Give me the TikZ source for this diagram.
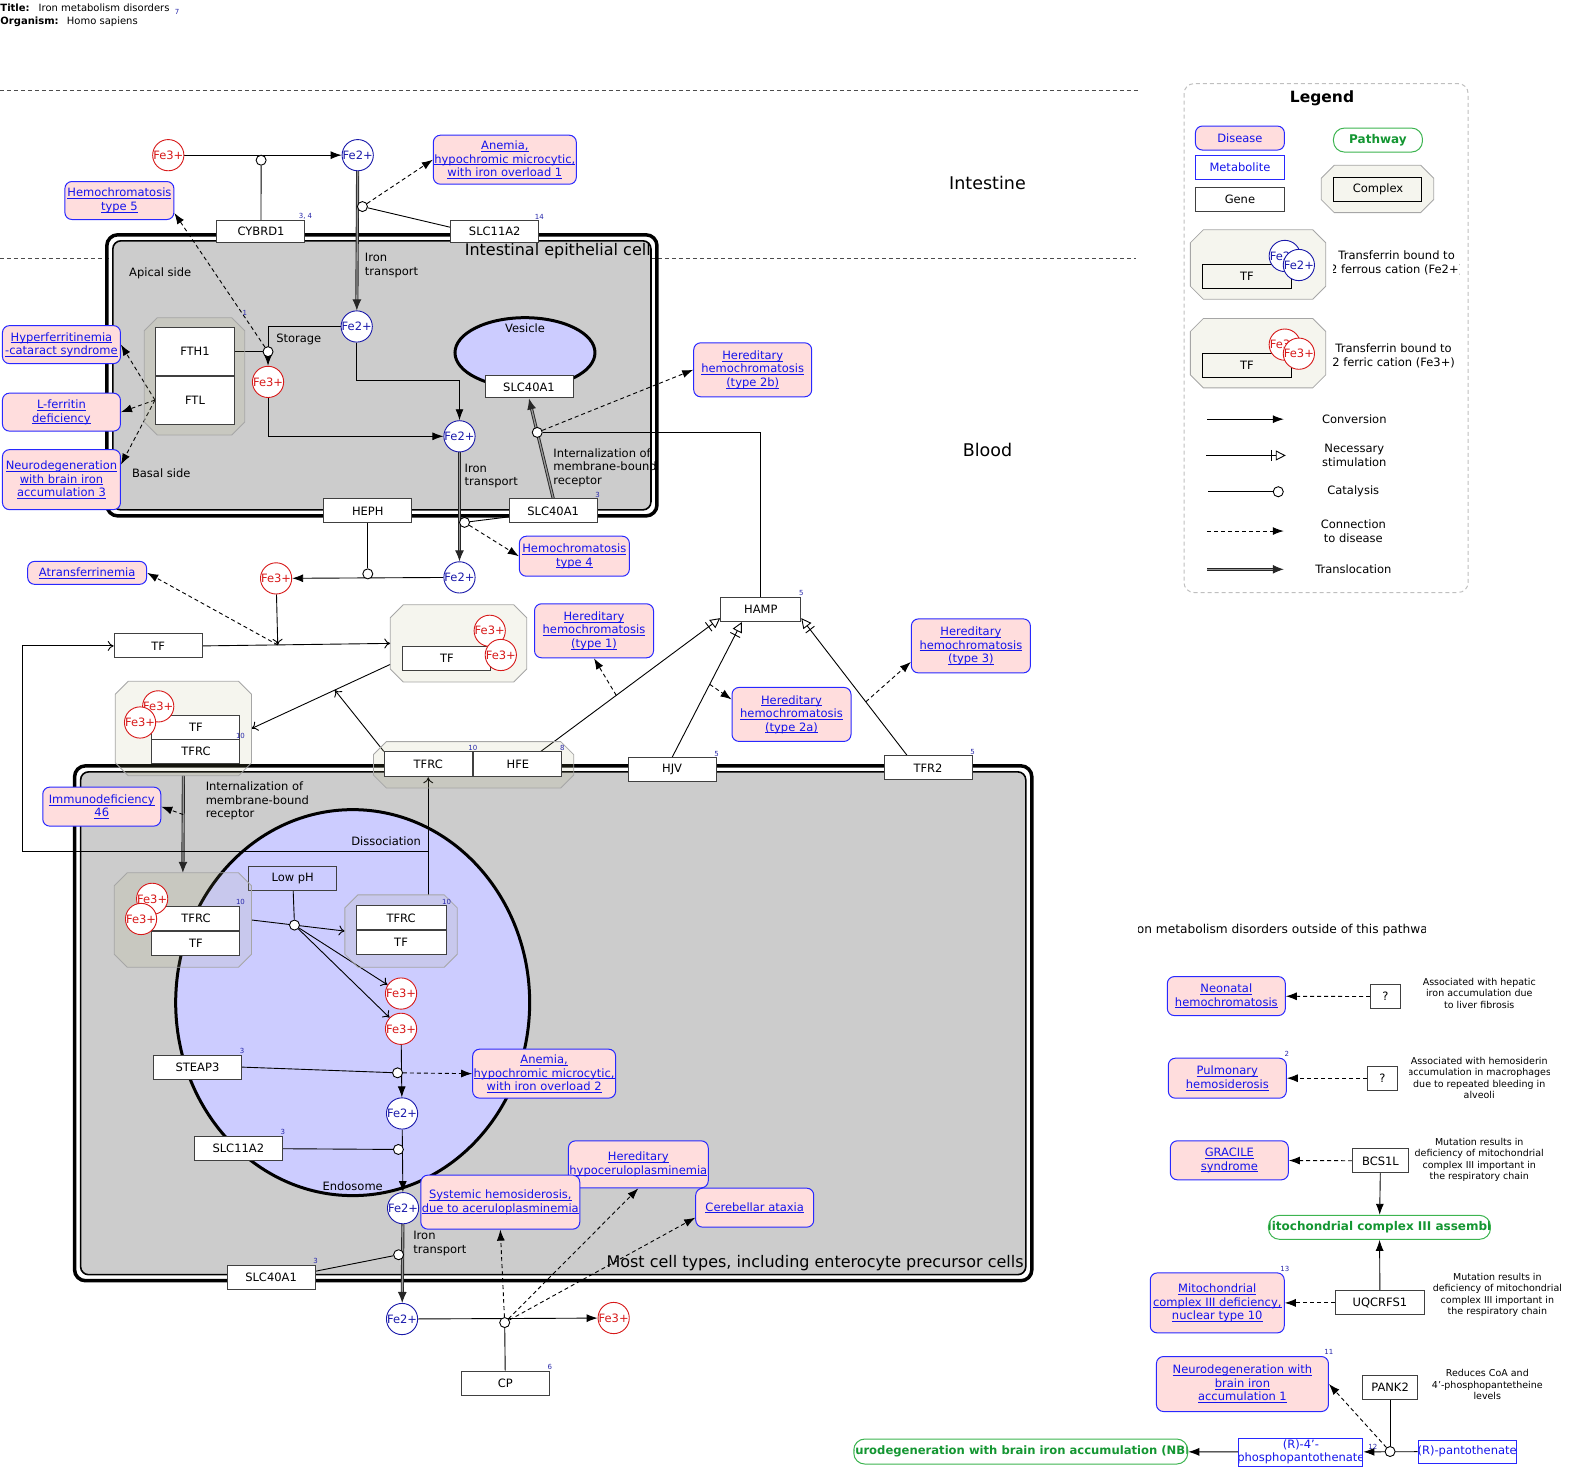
\documentclass[tikz,border=0pt]{standalone}
\usepackage{fontspec}
\setmainfont{DejaVu Sans}
\usetikzlibrary{arrows.meta,shapes.geometric,calc}

\definecolor{cellgray}{RGB}{204,204,204}
\definecolor{endoblue}{RGB}{204,204,255}
\definecolor{disfill}{RGB}{255,221,221}
\definecolor{disline}{RGB}{40,40,255}
\definecolor{linkblue}{RGB}{20,20,235}
\definecolor{fered}{RGB}{215,25,25}
\definecolor{feblue}{RGB}{25,25,170}
\definecolor{refblue}{RGB}{40,40,170}
\definecolor{pathgreen}{RGB}{20,150,50}
\definecolor{pathline}{RGB}{60,180,80}
\definecolor{cplxfill}{RGB}{172,172,113}

\newcommand\fnt{\fontsize{11.5}{13.5}\selectfont}
\newcommand\fsm{\fontsize{9.5}{11.5}\selectfont}
\newcommand\frefn{\fontsize{7}{8}\selectfont}
\newcommand\fhd{\fontsize{10}{12}\selectfont}
\newcommand\fsec{\fontsize{12.2}{14}\selectfont}
\newcommand\fcell{\fontsize{16}{19}\selectfont}
\newcommand\fzone{\fontsize{17.5}{21}\selectfont}
\newcommand\flgd{\fontsize{15.5}{18}\selectfont}
\newcommand\fpw{\fontsize{12}{14}\selectfont}
\newcommand\fpwb{\fontsize{11.6}{14}\selectfont}
\newcommand\uln[1]{\leavevmode\setbox0\hbox{#1}\rlap{\rule[-1.8pt]{\wd0}{0.6pt}}\box0}
% octagon drawn round a complex node
\newcommand\cplxoct[1]{\filldraw[fill=cplxfill, fill opacity=0.12, draw=black!35, line width=0.8pt]
  ([xshift=13pt]#1.north west) -- ([xshift=-13pt]#1.north east) -- ([yshift=-13pt]#1.north east)
  -- ([yshift=13pt]#1.south east) -- ([xshift=-13pt]#1.south east) -- ([xshift=13pt]#1.south west)
  -- ([yshift=13pt]#1.south west) -- ([yshift=-13pt]#1.north west) -- cycle;}

\pgfdeclarelayer{back}
\pgfdeclarelayer{mid}
\pgfsetlayers{back,mid,main}

\tikzset{
  gene/.style={draw=black!75, line width=1pt, fill=white, minimum width=88pt, minimum height=24pt, inner sep=0pt, font=\fnt},
  disease/.style={draw=disline, line width=1pt, fill=disfill, rounded corners=7pt, align=center, text=linkblue, font=\fnt, inner sep=1pt},
  metab/.style={draw=disline, line width=1pt, fill=white, text=linkblue, font=\fnt, inner sep=0pt},
  pathw/.style={draw=pathline, line width=1pt, fill=white, rounded corners=11pt, text=pathgreen, font=\fpw\bfseries, inner sep=0pt},
  cplx/.style={rectangle, inner sep=0pt},
  fethree/.style={circle, draw=fered, fill=white, text=fered, minimum size=30pt, inner sep=0pt, font=\fnt, line width=0.9pt},
  fetwo/.style={circle, draw=feblue, fill=white, text=feblue, minimum size=30pt, inner sep=0pt, font=\fnt, line width=0.9pt},
  anc/.style={circle, draw=black, fill=white, line width=0.9pt, inner sep=0pt, minimum size=10pt},
  refn/.style={text=refblue, font=\frefn, inner sep=1pt, anchor=south},
  lbl/.style={font=\fnt, inner sep=0pt, align=left},
  note/.style={font=\fsm, align=center, inner sep=0pt},
  zone/.style={black!70, line width=0.9pt, dash pattern=on 4pt off 3pt},
  lnk/.style={line width=0.9pt},
  conv/.style={line width=0.9pt, -{Latex[length=11pt,width=8pt]}},
  convo/.style={line width=0.9pt, -{To[length=6pt,width=10pt]}},
  trans/.style={line width=0.9pt, draw=black!85, double=black!40, double distance=1.3pt, -{Latex[length=11pt,width=9pt]}},
  todis/.style={line width=0.9pt, dash pattern=on 4pt off 3pt, -{Latex[length=11pt,width=8pt]}},
  stim/.style={line width=0.9pt, -{Bar[width=11pt,sep=4pt]Triangle[open,length=10pt,width=10pt]}},
  catl/.style={line width=0.9pt, -{Circle[open,length=11pt,width=11pt]}},
  pclip/.style={path picture={\node[draw=none, fill=none, text=pathgreen, font=\fpw\bfseries] at (path picture bounding box.center) {#1};}},
  pclipb/.style={path picture={\node[draw=none, fill=none, text=pathgreen, font=\fpwb\bfseries] at (path picture bounding box.center) {#1};}},
  mclip/.style={path picture={\node[draw=none, fill=none, text=linkblue, font=\fnt, align=center] at (path picture bounding box.center) {#1};}},
  nclip/.style={path picture={\node[draw=none, fill=none, font=\fsm, align=center] at (path picture bounding box.center) {#1};}},
  hclip/.style={path picture={\node[draw=none, fill=none, font=\fnt, align=center] at (path picture bounding box.center) {#1};}},
  sclip/.style={path picture={\node[draw=none, fill=none, font=\fsec] at (path picture bounding box.center) {#1};}}
}

\begin{document}
\begin{tikzpicture}[x=1.0077pt, y=-1.0077pt, line width=0.9pt]
\useasboundingbox (0,0) rectangle (1568,1470);

% header
\node[anchor=west, inner sep=0pt, font=\fhd\bfseries] (ttl) at (0,8) {Title:};
\node[anchor=west, inner sep=0pt, font=\fhd] (ttlname) at (38,8) {Iron metabolism disorders};
\node[refn, anchor=west] (r0) at (172,12) {7};
\node[anchor=west, inner sep=0pt, font=\fhd\bfseries] (org) at (0,22) {Organism:};
\node[anchor=west, inner sep=0pt, font=\fhd] (orgname) at (66,22) {Homo sapiens};

\begin{pgfonlayer}{back}
  % compartments
  \draw[zone] (0,90) -- (1130,90);
  \draw[zone] (0,256) -- (1127,256);
  % intestinal epithelial cell
  \draw[line width=3.5pt, rounded corners=11pt] (106,233) rectangle (652,512);
  \draw[line width=1.6pt, rounded corners=8pt, fill=cellgray] (112,239) rectangle (646,506);
  % other cell types
  \draw[line width=3.5pt, rounded corners=11pt] (74,760) rectangle (1024,1271);
  \draw[line width=1.6pt, rounded corners=8pt, fill=cellgray] (80,766) rectangle (1018,1265);
  \node[ellipse, draw, line width=3pt, fill=endoblue, minimum width=354pt, minimum height=386pt] (endo) at (350,995) {};
  \node[ellipse, draw, line width=3pt, fill=endoblue, minimum width=140pt, minimum height=70pt] (vesic) at (521,350) {};
\end{pgfonlayer}

\node[font=\fzone] (intest) at (980,182) {Intestine};
\node[font=\fzone] (blood) at (980,447) {Blood};
\node[font=\fcell, anchor=east, inner sep=0pt] (iec) at (646,249) {Intestinal epithelial cell};
\node[font=\fcell, anchor=east, inner sep=0pt] (mct) at (1016,1253) {Most cell types, including enterocyte precursor cells};
\node[lbl] (apical) at (159,271) {Apical side};
\node[lbl] (basal) at (160,470) {Basal side};
\node[lbl] (vesl) at (521,326) {Vesicle};
\node[lbl] (endl) at (350,1177) {Endosome};
\node[lbl, anchor=north west] (itr1) at (362,251) {Iron\\transport};
\node[lbl, anchor=west] (stor) at (274,337) {Storage};
\node[lbl, anchor=north west] (itr2) at (461,460) {Iron\\transport};
\node[lbl, anchor=north west] (intl1) at (549,445) {Internalization of\\membrane-bound\\receptor};
\node[lbl, anchor=north west] (intl2) at (204,776) {Internalization of\\membrane-bound\\receptor};
\node[lbl, anchor=east] (dissoc) at (418,835) {Dissociation};
\node[lbl, anchor=north west] (itr3) at (410,1222) {Iron\\transport};

% intestinal cell genes
\node[gene, minimum height=22pt] (cybrd1) at (259,230) {CYBRD1};
\node[refn] (r1) at (cybrd1.north east) {3, 4};
\node[gene, minimum height=22pt] (slc11i) at (491,230) {SLC11A2};
\node[refn] (r2) at (slc11i.north east) {14};
\node[cplx, minimum width=100pt, minimum height=117pt] (ferr) at (193,373.5) {};
\cplxoct{ferr}
\node[gene, minimum width=79pt, minimum height=48pt] (fth1) at (193.5,349) {FTH1};
\node[gene, minimum width=79pt, minimum height=48pt] (ftl) at (193.5,397) {FTL};
\node[gene, minimum height=22pt] (slc40v) at (525,384) {SLC40A1};
\node[gene] (heph) at (365,507) {HEPH};
\node[gene] (slc40b) at (549,507) {SLC40A1};
\node[refn] (r3) at (slc40b.north east) {3};

% blood
\node[gene, minimum width=80pt] (hamp) at (755,605) {HAMP};
\node[refn] (r4) at (hamp.north east) {5};
\node[gene] (tf) at (157,641) {TF};
\node[cplx, minimum width=136pt, minimum height=77pt] (tfc) at (455,638.5) {};
\cplxoct{tfc}
\node[gene] (tfcb) at (443.5,653) {TF};
\node[fethree] (tfcfa) at (486,626) {Fe3+};
\node[fethree] (tfcfb) at (497,650) {Fe3+};
\node[cplx, minimum width=136pt, minimum height=94pt] (tftfrc) at (182,723) {};
\cplxoct{tftfrc}
\node[gene] (tftf) at (194.5,722) {TF};
\node[gene] (tftfrcb) at (194.5,746) {TFRC};
\node[refn] (r5) at (tftf.south east) {10};
\node[fethree] (tftffa) at (157,701) {Fe3+};
\node[fethree] (tftffb) at (139,717) {Fe3+};

% receptors on the membrane
\node[cplx, minimum width=200pt, minimum height=46pt] (tfrchfe) at (470,759) {};
\cplxoct{tfrchfe}
\node[gene, minimum height=25pt] (tfrcm) at (425,758.5) {TFRC};
\node[gene, minimum height=25pt] (hfe) at (514,758.5) {HFE};
\node[refn] (r6) at (tfrcm.north east) {10};
\node[refn] (r7) at (hfe.north east) {8};
\node[gene] (hjv) at (667,764) {HJV};
\node[refn] (r8) at (hjv.north east) {5};
\node[gene] (tfr2) at (921,762) {TFR2};
\node[refn] (r9) at (tfr2.north east) {5};

% endosome
\node[gene, fill=none] (lowph) at (290.5,872) {Low pH};
\node[cplx, minimum width=137pt, minimum height=94pt] (cplxl) at (181.5,913) {};
\cplxoct{cplxl}
\node[gene] (cltfrc) at (194.5,911.5) {TFRC};
\node[gene] (cltf) at (194.5,936.5) {TF};
\node[refn] (r10) at (cltfrc.north east) {10};
\node[fethree] (clfa) at (151,892) {Fe3+};
\node[fethree] (clfb) at (140,912) {Fe3+};
\node[cplx, minimum width=112pt, minimum height=72pt] (cplxr) at (398,924) {};
\cplxoct{cplxr}
\node[gene, minimum width=90pt] (crtfrc) at (398,911) {TFRC};
\node[gene, minimum width=90pt] (crtf) at (398,935.5) {TF};
\node[refn] (r11) at (crtfrc.north east) {10};
\node[fethree] (fe3d) at (398,986) {Fe3+};
\node[fethree] (fe3e) at (398,1021) {Fe3+};
\node[gene] (steap3) at (196,1059) {STEAP3};
\node[refn] (r12) at (steap3.north east) {3};
\node[fetwo] (fe2e) at (399,1105) {Fe2+};
\node[gene] (slc11e) at (236.5,1140) {SLC11A2};
\node[refn] (r13) at (slc11e.north east) {3};
\node[fetwo] (fe2f) at (400,1199) {Fe2+};
\node[gene] (slc40c) at (269,1268) {SLC40A1};
\node[refn] (r14) at (slc40c.north east) {3};
\node[fetwo] (fe2g) at (399,1309) {Fe2+};
\node[fethree] (fe3f) at (609,1308) {Fe3+};
\node[gene] (cp) at (501.5,1372.5) {CP};
\node[refn] (r15) at (cp.north east) {6};

% iron in the intestine
\node[fethree] (fe3a) at (167,154) {Fe3+};
\node[fetwo] (fe2a) at (355,154) {Fe2+};
\node[fetwo] (fe2b) at (354,324) {Fe2+};
\node[fethree] (fe3b) at (266,379) {Fe3+};
\node[fetwo] (fe2c) at (456,433) {Fe2+};
\node[fetwo] (fe2d) at (456,573) {Fe2+};
\node[fethree] (fe3c) at (274,574) {Fe3+};

% diseases
\node[disease, minimum width=142pt, minimum height=49pt] (ane1) at (501,158.5) {\uln{Anemia,}\\\uln{hypochromic microcytic,}\\\uln{with iron overload 1}};
\node[disease, minimum width=109pt, minimum height=38pt] (hemo5) at (118.5,199) {\uln{Hemochromatosis}\\\uln{type 5}};
\node[refn] (r16) at (243,314) {1};
\node[disease, minimum width=118pt, minimum height=38pt] (hypf) at (61,342) {\uln{Hyperferritinemia}\\\uln{-cataract syndrome}};
\node[disease, minimum width=118pt, minimum height=38pt] (lfer) at (61,409) {\uln{L-ferritin}\\\uln{deficiency}};
\node[disease, minimum width=118pt, minimum height=60pt] (nbia3) at (61,476) {\uln{Neurodegeneration}\\\uln{with brain iron}\\\uln{accumulation 3}};
\node[disease, minimum width=118pt, minimum height=54pt] (hh2b) at (747,367) {\uln{Hereditary}\\\uln{hemochromatosis}\\\uln{(type 2b)}};
\node[disease, minimum width=110pt, minimum height=40pt] (hemo4) at (570,552) {\uln{Hemochromatosis}\\\uln{type 4}};
\node[disease, minimum width=119pt, minimum height=23pt] (atrans) at (86.5,568.5) {\uln{Atransferrinemia}};
\node[disease, minimum width=119pt, minimum height=54pt] (hh1) at (589.5,626) {\uln{Hereditary}\\\uln{hemochromatosis}\\\uln{(type 1)}};
\node[disease, minimum width=119pt, minimum height=54pt] (hh2a) at (785.5,709) {\uln{Hereditary}\\\uln{hemochromatosis}\\\uln{(type 2a)}};
\node[disease, minimum width=119pt, minimum height=54pt] (hh3) at (963.5,641) {\uln{Hereditary}\\\uln{hemochromatosis}\\\uln{(type 3)}};
\node[disease, minimum width=118pt, minimum height=39pt] (immu) at (101,800.5) {\uln{Immunodeficiency}\\\uln{46}};
\node[disease, minimum width=142pt, minimum height=49pt] (ane2) at (540,1065.5) {\uln{Anemia,}\\\uln{hypochromic microcytic,}\\\uln{with iron overload 2}};
\node[disease, minimum width=137pt, minimum height=47pt] (hcp) at (633.5,1155.5) {\uln{Hereditary}\\\uln{hypoceruloplasminemia}};
\node[disease, minimum width=153pt, minimum height=54pt] (sysh) at (496.5,1193) {\uln{Systemic hemosiderosis,}\\\uln{due to aceruloplasminemia}};
\node[disease, minimum width=118pt, minimum height=39pt] (cereb) at (749,1198.5) {\uln{Cerebellar ataxia}};

% catalysis anchors
\node[anc] (c1) at ($(fe3a)!0.49!(fe2a)+(0,5)$) {};
\node[anc] (c2) at ($(fe2a)!0.3!(fe2b)+(5,0)$) {};
\node[anc] (c3) at (fe3b.north |- fth1.east) {};
\node[anc] (c4) at ($(fe2c)!0.61!(fe2d)+(5,0)$) {};
\node[anc] (c5) at ($(slc40b.north)!0.66!(slc40v.south)$) {};
\node[anc] (c6) at ($(fe2d)!0.5!(fe3c)+(0,-4)$) {};
\node[anc] (c7) at ($(cplxl.east)!0.46!(cplxr.west)$) {};
\node[anc] (c8) at ($(fe3e)!0.52!(fe2e)+(-4,0)$) {};
\node[anc] (c9) at ($(fe2e)!0.38!(fe2f)+(-4,0)$) {};
\node[anc] (c10) at ($(fe2f)!0.42!(fe2g)+(-4,0)$) {};
\node[anc] (c11) at ($(fe2g)!0.485!(fe3f)+(0,4)$) {};

\begin{pgfonlayer}{mid}
  % intestine
  \draw[conv] (fe3a) -- (fe2a);
  \draw[lnk] (cybrd1) -- (c1);
  \draw[trans] (fe2a) -- (fe2b);
  \draw[lnk] ([yshift=-7pt]slc11i.north west) -- (c2);
  \draw[todis] (c2) -- (ane1.west);
  \draw[conv] (fe2b.west) -| (fe3b.north);
  \draw[lnk] (fth1.east) -- (c3);
  \draw[todis] (c3) -- ([yshift=7pt]hemo5.south east);
  \draw[todis] (ftl.west) -- (hypf.east);
  \draw[todis] (ftl.west) -- (lfer.east);
  \draw[todis] (ftl.west) -- ([yshift=15pt]nbia3.east);
  \draw[conv] (fe2b.south) |- ([yshift=40pt]fe2c.north) -- (fe2c.north);
  \draw[conv] (fe3b.south) |- (fe2c.west);
  \draw[trans] (fe2c) -- (fe2d);
  \draw[lnk] ([yshift=-6pt]slc40b.west) -- (c4);
  \draw[todis] (c4) -- (hemo4.west);
  \draw[trans] (slc40b.north) -- (slc40v.south);
  \draw[lnk] (hamp.north) |- (c5);
  \draw[todis] (c5) -- (hh2b.west);
  \draw[conv] (fe2d) -- (fe3c);
  \draw[lnk] (heph) -- (c6);

  % blood
  \coordinate (tfj) at ($(tf.east)!0.4!(tfc.west)$);
  \draw[convo] (tf.east) -- (tfc.west);
  \draw[convo] (fe3c) -- (tfj);
  \draw[todis] (tfj) -- (atrans.east);
  \coordinate (tfcout) at ([yshift=-21pt]tfc.west);
  \draw[convo] (tfcout) -- (tftfrc.east);
  \draw[convo] (tfrcm.north west) -- ($(tfcout)!0.4!(tftfrc.east)$);

  % hepcidin regulation
  \coordinate (s1a) at ([xshift=23pt]hfe.north);
  \coordinate (s1b) at ([yshift=4pt]hamp.south west);
  \draw[stim] (s1a) -- (s1b);
  \draw[todis] ($(s1a)!0.42!(s1b)$) -- (hh1.south);
  \coordinate (s2a) at (hjv.north);
  \coordinate (s2b) at ([xshift=-19pt]hamp.south);
  \draw[stim] (s2a) -- (s2b);
  \draw[todis] ($(s2a)!0.54!(s2b)$) -- ([yshift=15pt]hh2a.west);
  \coordinate (s3a) at ([xshift=-21pt]tfr2.north);
  \coordinate (s3b) at ([yshift=4pt]hamp.south east);
  \draw[stim] (s3a) -- (s3b);
  \draw[todis] ($(s3a)!0.39!(s3b)$) -- ([yshift=-16pt]hh3.west);

  % endosome cycle
  \draw[trans] (tftfrc.south) -- (cplxl.north);
  \draw[todis] ($(tftfrc.south)!0.4!(cplxl.north)$) -- (immu.east);
  \draw[convo] (cplxl.east) -- (cplxr.west);
  \draw[lnk] (lowph) -- (c7);
  \draw[convo] (c7) -- (fe3d);
  \draw[convo] (c7) -- (fe3e);
  \draw[convo] (tfrcm.south |- cplxr.north) -- (tfrcm.south);
  \draw[convo] (tfrcm.south |- 0,845) -- (22,845) |- (tf.west);
  \draw[conv] (fe3e) -- (fe2e);
  \draw[lnk] (steap3.east) -- (c8);
  \draw[todis] (c8) -- (ane2.west);
  \draw[conv] (fe2e) -- (fe2f);
  \draw[lnk] (slc11e.east) -- (c9);
  \draw[trans] (fe2f) -- (fe2g);
  \draw[lnk] ([yshift=-6pt]slc40c.north east) -- (c10);
  \draw[conv] (fe2g) -- (fe3f);
  \draw[lnk] (cp) -- (c11);
  \draw[todis] (c11) -- (sysh.south);
  \draw[todis] (c11) -- (hcp.south);
  \draw[todis] (c11) -- ([yshift=-10pt]cereb.west);
\end{pgfonlayer}

% disorders outside of this pathway
\node[minimum width=287pt, minimum height=16pt, sclip={Iron metabolism disorders outside of this pathway}] (outside) at (1272,923) {};
\node[disease, minimum width=118pt, minimum height=39pt] (neon) at (1217,988.5) {\uln{Neonatal}\\\uln{hemochromatosis}};
\node[gene, minimum width=30pt] (q1) at (1375,989) {?};
\node[note] (n1) at (1468,985.5) {Associated with hepatic\\iron accumulation due\\to liver fibrosis};
\node[disease, minimum width=118pt, minimum height=40pt] (pulm) at (1218,1070) {\uln{Pulmonary}\\\uln{hemosiderosis}};
\node[refn] (r17) at (pulm.north east) {2};
\node[gene, minimum width=30pt] (q2) at (1372,1070) {?};
\node[minimum width=140pt, minimum height=52pt, nclip={Associated with hemosiderin\\accumulation in macrophages\\due to repeated bleeding in\\alveoli}] (n2) at (1468,1070) {};
\node[disease, minimum width=118pt, minimum height=39pt] (grac) at (1220,1151.5) {\uln{GRACILE}\\\uln{syndrome}};
\node[gene, minimum width=56pt] (bcs1l) at (1370,1152) {BCS1L};
\node[note] (n3) at (1468,1151) {Mutation results in\\deficiency of mitochondrial\\complex III important in\\the respiratory chain};
\node[pathw, minimum width=222pt, minimum height=24pt, pclip={Mitochondrial complex III assembly}] (mc3a) at (1369,1218) {};
\node[disease, minimum width=134pt, minimum height=60pt] (mc3d) at (1208,1293) {\uln{Mitochondrial}\\\uln{complex III deficiency,}\\\uln{nuclear type 10}};
\node[refn] (r18) at (mc3d.north east) {13};
\node[gene, minimum width=89pt] (uqcrfs1) at (1369.5,1293) {UQCRFS1};
\node[note] (n4) at (1486,1285) {Mutation results in\\deficiency of mitochondrial\\complex III important in\\the respiratory chain};
\node[disease, minimum width=172pt, minimum height=55pt] (nbia1) at (1233,1373.5) {\uln{Neurodegeneration with}\\\uln{brain iron}\\\uln{accumulation 1}};
\node[refn] (r19) at (nbia1.north east) {11};
\node[gene, minimum width=55pt] (pank2) at (1379.5,1377) {PANK2};
\node[note] (n5) at (1476,1374) {Reduces CoA and\\4'-phosphopantetheine\\levels};
\node[pathw, minimum width=334pt, minimum height=25pt, pclipb={Neurodegeneration with brain iron accumulation (NBIA)}] (nbiap) at (1013,1440.5) {};
\node[metab, minimum width=124pt, minimum height=28pt, mclip={(R)-4'-\\phosphopantothenate}] (ppan) at (1291,1441) {};
\node[metab, minimum width=98pt, minimum height=23pt, mclip={(R)-pantothenate}] (pan) at (1456,1440.5) {};
\node[anc] (c12) at (pank2.south |- pan.west) {};
\node[refn, anchor=east] (r20) at (1368,1436) {12};

\begin{pgfonlayer}{mid}
  \draw[todis] (q1) -- (neon);
  \draw[todis] (q2) -- (pulm);
  \draw[todis] (bcs1l) -- (grac);
  \draw[conv] (bcs1l) -- (mc3a);
  \draw[conv] (uqcrfs1) -- (mc3a);
  \draw[todis] (uqcrfs1) -- (mc3d);
  \draw[conv] (pan) -- (ppan);
  \draw[lnk] (pank2) -- (c12);
  \draw[todis] (c12) -- (nbia1.east);
  \draw[conv] (ppan) -- (nbiap);
\end{pgfonlayer}

% legend
\draw[black!25, line width=1pt, dash pattern=on 4pt off 3pt, rounded corners=10pt] (1175,83) rectangle (1457,588);
\node[font=\flgd\bfseries] (lgt) at (1312,98) {Legend};
\node[disease, minimum width=89pt, minimum height=24pt] (lgdis) at (1230.5,137) {Disease};
\node[metab, minimum width=89pt, minimum height=24pt] (lgmet) at (1230.5,166) {Metabolite};
\node[gene, minimum width=89pt] (lggene) at (1230.5,198) {Gene};
\node[pathw, minimum width=89pt, minimum height=24pt] (lgpath) at (1367.5,139) {Pathway};
\node[cplx, minimum width=112pt, minimum height=47pt] (lgcplx) at (1367,187.5) {};
\cplxoct{lgcplx}
\node[gene, fill=none, draw=black] (lgcb) at (1367.5,188) {Complex};
\node[cplx, minimum width=135pt, minimum height=69pt] (lgtf2) at (1248.5,262.5) {};
\cplxoct{lgtf2}
\node[gene, fill=none, draw=black, minimum width=89pt] (lgtf2b) at (1237.5,274) {TF};
\node[fetwo, minimum size=28pt] (lgfe2a) at (1275,254) {Fe2+};
\node[fetwo, minimum size=28pt] (lgfe2b) at (1289,263) {Fe2+};
\node[minimum width=126pt, minimum height=30pt, hclip={Transferrin bound to\\2 ferrous cation (Fe2+)}] (lgtf2t) at (1386,261) {};
\node[cplx, minimum width=135pt, minimum height=69pt] (lgtf3) at (1248.5,350.5) {};
\cplxoct{lgtf3}
\node[gene, fill=none, draw=black, minimum width=89pt] (lgtf3b) at (1237.5,363) {TF};
\node[fethree, minimum size=28pt] (lgfe3a) at (1275,342) {Fe3+};
\node[fethree, minimum size=28pt] (lgfe3b) at (1289,351) {Fe3+};
\node[minimum width=130pt, minimum height=30pt, hclip={Transferrin bound to\\2 ferric cation (Fe3+)}] (lgtf3t) at (1383,353) {};
\coordinate (lga1) at (1198,416);
\coordinate (lgb1) at (1274,416);
\draw[conv] (lga1) -- (lgb1);
\node[lbl] (lgl1) at (1344,416) {Conversion};
\coordinate (lga2) at (1197,452);
\coordinate (lgb2) at (1276,452);
\draw[stim] (lga2) -- (lgb2);
\node[lbl, align=center] (lgl2) at (1344,452) {Necessary\\stimulation};
\coordinate (lga3) at (1199,488);
\coordinate (lgb3) at (1274,488);
\draw[catl] (lga3) -- (lgb3);
\node[lbl] (lgl3) at (1343,488) {Catalysis};
\coordinate (lga4) at (1198,527);
\coordinate (lgb4) at (1274,527);
\draw[todis] (lga4) -- (lgb4);
\node[lbl, align=center] (lgl4) at (1343,527) {Connection\\to disease};
\coordinate (lga5) at (1198,565);
\coordinate (lgb5) at (1274,565);
\draw[trans] (lga5) -- (lgb5);
\node[lbl] (lgl5) at (1343,565) {Translocation};
\end{tikzpicture}
\end{document}
